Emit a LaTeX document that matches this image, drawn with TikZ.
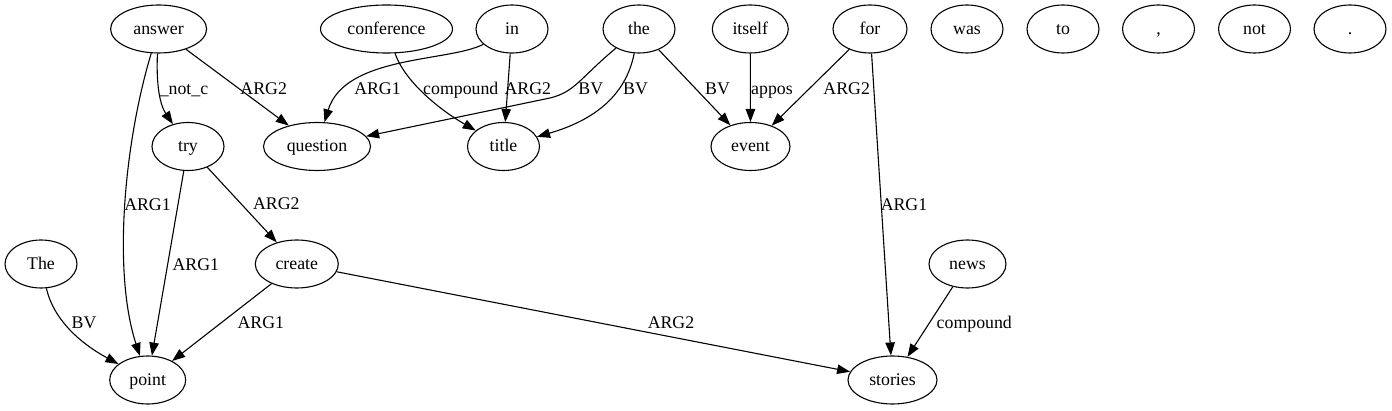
\documentclass[tikz,border=0pt]{standalone}
\usepackage{fontspec}
\setmainfont{Liberation Serif}
\usetikzlibrary{shapes.geometric,arrows.meta}
\begin{document}
\begin{tikzpicture}[x=1pt,y=-1pt,
 nd/.style={draw,ellipse,inner sep=0pt,minimum height=48pt,minimum width=72pt,line width=1.1pt,font=\fontsize{17.8}{20}\selectfont,text height=14pt,text depth=3.4pt},
 ed/.style={-{Triangle[length=13pt,width=9.5pt]},line width=1.1pt},
 lb/.style={inner sep=0pt,font=\fontsize{17.8}{20}\selectfont,text height=14pt,text depth=3.4pt}]
\useasboundingbox[fill=white] (0,0) rectangle (1392,411);
% nodes
\node[nd,minimum width=96pt] (answer) at (158.6,29) {answer};
\node[nd,minimum width=132pt] (conference) at (386.5,29) {conference};
\node[nd] (in) at (512,29) {in};
\node[nd] (the) at (639,29) {the};
\node[nd,minimum width=76pt] (itself) at (750.3,29) {itself};
\node[nd,minimum width=74pt] (for) at (870,29) {for};
\node[nd] (was) at (967,29) {was};
\node[nd] (to) at (1063,29) {to};
\node[nd] (comma) at (1158.5,29) {,};
\node[nd] (not) at (1254.5,29) {not};
\node[nd] (dot) at (1350,29) {.};
\node[nd] (try) at (188,146.5) {try};
\node[nd,minimum width=107pt] (question) at (317,146.5) {question};
\node[nd] (title) at (503.5,146.5) {title};
\node[nd,minimum width=79pt] (event) at (750.5,146.5) {event};
\node[nd] (The) at (41,264) {The};
\node[nd,minimum width=83pt] (create) at (296.8,264) {create};
\node[nd,minimum width=77pt] (news) at (967.5,264) {news};
\node[nd,minimum width=76pt] (point) at (147.7,380) {point};
\node[nd,minimum width=89pt] (stories) at (892.5,380) {stories};
% edges
\draw[ed] (answer) .. controls (156,85) and (160,105) .. (try);
\draw[ed] (answer) -- (question);
\draw[ed] (answer) .. controls (125,140) and (112,270) .. (point);
\draw[ed] (try) -- (point);
\draw[ed] (try) -- (create);
\draw[ed] (The) .. controls (53,318) and (78,342) .. (point);
\draw[ed] (create) -- (point);
\draw[ed] (create) -- (stories);
\draw[ed] (conference) .. controls (405,82) and (440,110) .. (title);
\draw[ed] (in) .. controls (450,62) and (345,55) .. (question);
\draw[ed] (in) -- (title);
\draw[ed] (the) .. controls (580,78) and (575,92) .. (550,98) -- (question);
\draw[ed] (the) .. controls (626,95) and (595,120) .. (title);
\draw[ed] (the) -- (event);
\draw[ed] (itself) -- (event);
\draw[ed] (for) -- (event);
\draw[ed] (for) -- (stories);
\draw[ed] (news) -- (stories);
% labels
\node[lb] (l1) at (184,89) {\_not\_c};
\node[lb] (l2) at (263.7,89) {ARG2};
\node[lb] (l3) at (147.5,205) {ARG1};
\node[lb] (l4) at (195.8,265) {ARG1};
\node[lb] (l5) at (276.3,204.3) {ARG2};
\node[lb] (l6) at (84,323.3) {BV};
\node[lb] (l7) at (260.8,323.3) {ARG1};
\node[lb] (l8) at (671,323) {ARG2};
\node[lb] (l9) at (377.5,89) {ARG1};
\node[lb] (l10) at (460.8,89) {compound};
\node[lb] (l11) at (527.8,89) {ARG2};
\node[lb] (l12) at (590.8,89) {BV};
\node[lb] (l13) at (635.5,89) {BV};
\node[lb] (l14) at (717.5,89) {BV};
\node[lb] (l15) at (772,89) {appos};
\node[lb] (l16) at (846.7,89) {ARG2};
\node[lb] (l17) at (904,205) {ARG1};
\node[lb] (l18) at (974.3,323.7) {compound};
\end{tikzpicture}
\end{document}
